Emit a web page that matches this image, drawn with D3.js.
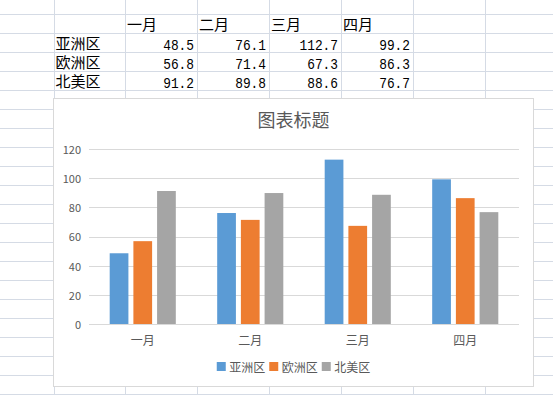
<!DOCTYPE html>
<html>
<head>
<meta charset="utf-8">
<script src="https://cdn.jsdelivr.net/npm/d3@7"></script>
<style>
  html, body { margin: 0; padding: 0; background: #ffffff; }
  svg { display: block; }
</style>
</head>
<body>
<svg id="sheet" width="553" height="395"></svg>
<script>
// ---------- data ----------
const months = ["一月", "二月", "三月", "四月"];
const regions = ["亚洲区", "欧洲区", "北美区"];
const asia = [48.5, 76.1, 112.7, 99.2];
const europe = [56.8, 71.4, 67.3, 86.3];
const northAmerica = [91.2, 89.8, 88.6, 76.7];
const yTicks = [0, 20, 40, 60, 80, 100, 120];
const chartTitle = "图表标题";

const seriesValues = [asia, europe, northAmerica];
const colors = ["#5B9BD5", "#ED7D31", "#A5A5A5"];

// ---------- layout ----------
const W = 553, H = 395;
const svg = d3.select("#sheet");
const cjk = "'Noto Sans CJK SC', 'Noto Sans', sans-serif";

// spreadsheet grid
const colX0 = 53.5, colW = 71.9, nCols = 8;
const rowY0 = 14, rowH = 19.015, nRows = 21;
const gridColor = "#d5dbe5";
const grid = svg.append("g");
for (let i = 0; i < nCols; i++) {
  const x = Math.round(colX0 + i * colW) + 0.5;
  grid.append("line").attr("x1", x).attr("x2", x).attr("y1", 0).attr("y2", H)
    .attr("stroke", gridColor).attr("stroke-width", 1);
}
for (let k = 0; k < nRows; k++) {
  const y = Math.round(rowY0 + k * rowH) + 0.5;
  grid.append("line").attr("x1", 0).attr("x2", W).attr("y1", y).attr("y2", y)
    .attr("stroke", gridColor).attr("stroke-width", 1);
}

// table cells
const colLeft = c => Math.round(colX0 + c * colW);
const rowBottom = r => Math.round(rowY0 + r * rowH);
const table = svg.append("g").attr("fill", "#000");
months.forEach((m, i) => {
  table.append("text").attr("x", colLeft(i + 1) + 2).attr("y", rowBottom(1) - 2.6)
    .attr("font-family", cjk).attr("font-size", 15).text(m);
});
regions.forEach((r, j) => {
  table.append("text").attr("x", colLeft(0) + 1.5).attr("y", rowBottom(j + 2) - 2.6)
    .attr("font-family", cjk).attr("font-size", 15).text(r);
  seriesValues[j].forEach((v, i) => {
    const s = v.toFixed(1);
    table.append("text").attr("x", colLeft(i + 2) - 3).attr("y", rowBottom(j + 2) - 2.4)
      .attr("text-anchor", "end")
      .attr("font-family", "'Liberation Mono', 'DejaVu Sans Mono', monospace")
      .attr("font-size", 14)
      .attr("textLength", s.length * 7.7).attr("lengthAdjust", "spacingAndGlyphs")
      .text(s);
  });
});

// ---------- chart ----------
const cx0 = 53.5, cy0 = 98.5, cx1 = 533.5, cy1 = 386.5;
svg.append("rect").attr("x", cx0).attr("y", cy0).attr("width", cx1 - cx0).attr("height", cy1 - cy0)
  .attr("fill", "#fff").attr("stroke", "#d9d9d9").attr("stroke-width", 1);

svg.append("text").attr("x", (cx0 + cx1) / 2).attr("y", 118.5)
  .attr("text-anchor", "middle").attr("dominant-baseline", "central")
  .attr("font-family", cjk).attr("font-size", 18).attr("fill", "#595959")
  .text(chartTitle);

const plotL = 89, plotR = 519, plotTop = 149, plotBot = 324;
const x0 = d3.scaleBand().domain(months).range([plotL, plotR]).paddingInner(0).paddingOuter(0);
const x1 = d3.scaleBand().domain(regions).range([0, x0.bandwidth()]).paddingInner(0.21).paddingOuter(0.873);
const y = d3.scaleLinear().domain([0, 120]).range([plotBot, plotTop]);

// gridlines
const gl = svg.append("g");
yTicks.forEach(t => {
  const yy = Math.round(y(t)) + 0.5;
  gl.append("line").attr("x1", plotL).attr("x2", plotR).attr("y1", yy).attr("y2", yy)
    .attr("stroke", "#d9d9d9").attr("stroke-width", 1);
});

// y axis labels via d3 axis
const yAxis = svg.append("g").attr("transform", `translate(${plotL - 8},0)`)
  .call(d3.axisLeft(y).tickValues(yTicks).tickSize(0).tickPadding(0));
yAxis.select(".domain").remove();
yAxis.selectAll("text").attr("font-family", cjk).attr("font-size", 11).attr("fill", "#595959")
  .attr("dy", "0.35em").attr("y", 0.5);

// bars
const groups = svg.append("g").selectAll("g").data(months).join("g")
  .attr("transform", m => `translate(${x0(m)},0)`);
groups.selectAll("rect")
  .data((m, i) => regions.map((r, j) => ({ r, v: seriesValues[j][i], c: colors[j] })))
  .join("rect")
  .attr("x", d => x1(d.r))
  .attr("width", x1.bandwidth())
  .attr("y", d => y(d.v))
  .attr("height", d => y(0) - y(d.v))
  .attr("fill", d => d.c);

// x axis labels
const xAxis = svg.append("g").attr("transform", `translate(0,${plotBot})`)
  .call(d3.axisBottom(x0).tickSize(0).tickPadding(0));
xAxis.select(".domain").remove();
xAxis.selectAll("text").attr("font-family", cjk).attr("font-size", 12).attr("fill", "#595959")
  .attr("y", 16.5).attr("dy", "0.35em");

// legend
const sw = 9, gap = 3.5, textW = 36, itemGap = 4;
const itemW = sw + gap + textW + itemGap;
const legendW = regions.length * itemW - itemGap;
const lx0 = (cx0 + cx1) / 2 - legendW / 2;
const ly = 366.5;
const legend = svg.append("g");
regions.forEach((r, j) => {
  const lx = lx0 + j * itemW;
  legend.append("rect").attr("x", lx).attr("y", ly - sw / 2).attr("width", sw).attr("height", sw)
    .attr("fill", colors[j]);
  legend.append("text").attr("x", lx + sw + gap).attr("y", ly).attr("dominant-baseline", "central")
    .attr("font-family", cjk).attr("font-size", 12).attr("fill", "#595959").text(r);
});
</script>
</body>
</html>
